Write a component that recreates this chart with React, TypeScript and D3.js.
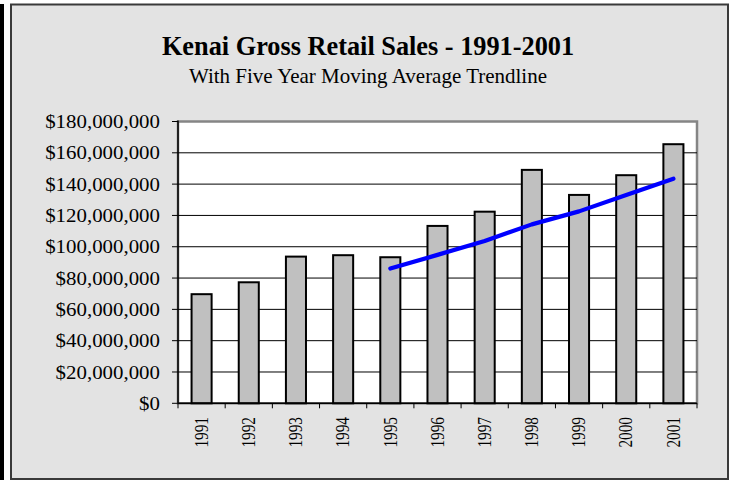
import React from "react";
import * as d3 from "d3";

const years = ["1991", "1992", "1993", "1994", "1995", "1996", "1997", "1998", "1999", "2000", "2001"];
// Gross retail sales, millions of dollars
const sales = [69.7, 77.3, 93.7, 94.6, 93.3, 113.3, 122.4, 149.1, 133.1, 145.7, 165.5];
// Five year moving average (1995-2001), millions of dollars
const maYears = ["1995", "1996", "1997", "1998", "1999", "2000", "2001"];
const maValues = [86.1, 94.8, 103.7, 114.3, 122.6, 133.0, 143.5];
const yTicks = [0, 20, 40, 60, 80, 100, 120, 140, 160, 180];

const title = "Kenai Gross Retail Sales - 1991-2001";
const subtitle = "With Five Year Moving Average Trendline";

const W = 731;
const H = 480;
const plot = { left: 178, right: 697, top: 121.5, bottom: 403.3 };
const FONT = "'Liberation Serif', 'Times New Roman', serif";

export default function App() {
  const x = d3
    .scaleBand<string>()
    .domain(years)
    .range([plot.left, plot.right])
    .paddingInner(0.575)
    .paddingOuter(0.2875);
  const step = (plot.right - plot.left) / years.length;
  const y = d3.scaleLinear().domain([0, 180]).range([plot.bottom, plot.top]);
  const cx = (yr: string) => (x(yr) as number) + x.bandwidth() / 2;

  const line = d3
    .line<number>()
    .x((_, i) => cx(maYears[i]))
    .y((d) => y(d));

  const fmt = (v: number) => "$" + d3.format(",")(v * 1000000);

  return (
    <svg
      width={W}
      height={H}
      style={{ position: "absolute", left: 0, top: 0, display: "block" }}
      fontFamily={FONT}
    >
      <rect x={0} y={0} width={W} height={H} fill="#fff" />
      <rect x={0} y={4} width={4} height={H - 4} fill="#000" />
      <rect x={11} y={4.5} width={717} height={474.5} fill="#e3e3e3" stroke="#3a3a3a" strokeWidth={2} />

      <text x={368} y={55} textAnchor="middle" fontSize={26.3} fontWeight="bold" fill="#000">
        {title}
      </text>
      <text x={368} y={83.3} textAnchor="middle" fontSize={21} fill="#000">
        {subtitle}
      </text>

      {/* plot area */}
      <rect
        x={plot.left}
        y={plot.top}
        width={plot.right - plot.left}
        height={plot.bottom - plot.top}
        fill="#fff"
        stroke="#858585"
        strokeWidth={2.5}
      />

      {/* gridlines */}
      {yTicks.slice(1, -1).map((t) => (
        <line key={"g" + t} x1={plot.left} x2={plot.right} y1={y(t)} y2={y(t)} stroke="#000" strokeWidth={1} />
      ))}

      {/* bars */}
      {sales.map((v, i) => (
        <rect
          key={years[i]}
          x={x(years[i]) as number}
          y={y(v)}
          width={x.bandwidth()}
          height={plot.bottom - y(v)}
          fill="#c0c0c0"
          stroke="#000"
          strokeWidth={2}
        />
      ))}

      {/* moving average line */}
      <path
        d={line(maValues) || ""}
        fill="none"
        stroke="#0000ff"
        strokeWidth={4.2}
        strokeLinecap="round"
        strokeLinejoin="round"
      />

      {/* y axis */}
      <line x1={plot.left} x2={plot.left} y1={plot.top - 1} y2={plot.bottom} stroke="#000" strokeWidth={1.5} />
      {yTicks.map((t) => (
        <g key={"y" + t}>
          <line x1={plot.left - 6} x2={plot.left} y1={y(t)} y2={y(t)} stroke="#000" strokeWidth={1} />
          <text
            transform={`translate(160, ${y(t)}) scale(1.13, 1)`}
            textAnchor="end"
            dominantBaseline="central"
            fontSize={18.5}
            fill="#000"
          >
            {fmt(t)}
          </text>
        </g>
      ))}

      {/* x axis */}
      <line x1={plot.left} x2={plot.right} y1={plot.bottom} y2={plot.bottom} stroke="#000" strokeWidth={1.5} />
      {d3.range(years.length + 1).map((i) => (
        <line
          key={"xt" + i}
          x1={plot.left + i * step}
          x2={plot.left + i * step}
          y1={plot.bottom}
          y2={plot.bottom + 5}
          stroke="#000"
          strokeWidth={1}
        />
      ))}
      {years.map((yr) => (
        <text
          key={"xl" + yr}
          transform={`translate(${cx(yr) + 6.2}, 417) rotate(-90) scale(0.84, 1)`}
          textAnchor="end"
          fontSize={18.2}
          fill="#000"
        >
          {yr}
        </text>
      ))}
    </svg>
  );
}
